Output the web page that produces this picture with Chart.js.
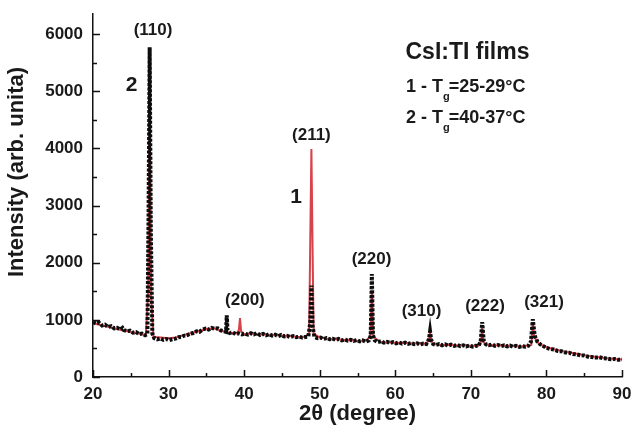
<!DOCTYPE html>
<html>
<head>
<meta charset="utf-8">
<script src="https://cdn.jsdelivr.net/npm/chart.js@4"></script>
<style>
html,body{margin:0;padding:0;background:#fff;}
</style>
</head>
<body>
<canvas id="xrd" width="632" height="427"></canvas>
<script>
// curve 2 (Tg = 40-37 C), black dotted
const twoTheta2 = [20.0,20.4,20.8,21.2,21.6,22.0,22.4,22.8,23.2,23.6,23.9,24.1,24.5,24.9,25.3,25.7,26.1,26.5,26.9,27.2,27.35,27.5,27.65,27.85,
28.1,28.5,28.9,29.3,29.7,30.1,30.5,30.9,31.3,31.7,32.1,32.5,32.9,33.3,33.7,34.1,34.5,34.9,35.3,35.7,36.1,36.5,36.9,37.3,37.6,37.7,37.8,
38.1,38.5,38.9,39.3,39.7,40.1,40.5,40.9,41.3,41.7,42.1,42.5,42.9,43.3,43.7,44.1,44.5,44.9,45.3,45.7,46.1,46.5,46.9,47.3,47.7,48.1,48.5,48.75,48.9,49.05,
49.3,49.7,50.1,50.5,50.9,51.3,51.7,52.1,52.5,52.9,53.3,53.7,54.1,54.5,54.9,55.3,55.7,56.1,56.5,56.75,56.9,57.05,
57.3,57.7,58.1,58.5,58.9,59.3,59.7,60.1,60.5,60.9,61.3,61.7,62.1,62.5,62.9,63.3,63.7,64.1,64.45,64.6,64.75,
65.0,65.4,65.8,66.2,66.6,67.0,67.4,67.8,68.2,68.6,69.0,69.4,69.8,70.2,70.6,71.0,71.3,71.5,71.7,
72.0,72.4,72.8,73.2,73.6,74.0,74.4,74.8,75.2,75.6,76.0,76.4,76.8,77.2,77.6,77.95,78.2,78.45,
78.8,79.2,79.6,80.0,80.5,81.0,81.5,82.0,82.5,83.0,83.5,84.0,84.5,85.0,85.5,86.0,86.5,87.0,87.5,88.0,88.5,89.0,89.5,90.0];
const intensity2 = [960,935,950,900,915,875,890,850,860,830,860,820,800,810,775,785,750,760,730,750,2800,5770,2600,760,
680,660,675,650,665,645,660,670,695,700,725,735,760,770,800,790,830,845,830,860,845,850,815,800,790,1080,820,
770,780,750,765,745,760,740,765,745,770,735,755,730,750,725,740,715,735,710,720,700,715,695,705,690,700,710,950,1600,900,
700,680,690,665,680,660,670,650,665,640,655,635,650,630,645,625,640,620,640,720,1800,730,
640,610,625,600,615,595,610,590,605,585,600,580,595,575,590,570,585,575,660,800,650,
580,560,575,555,570,550,565,545,560,540,555,535,550,530,545,540,620,960,640,
570,555,570,545,560,540,555,535,550,530,545,525,540,530,545,620,1010,720,
620,570,540,510,490,480,455,450,430,425,400,395,380,375,355,350,340,345,330,325,310,315,300,305];

// curve 1 (Tg = 25-29 C), red solid
const twoTheta1 = [20,21,22,23,24,25,26,27,27.3,27.5,27.7,28,29,30,31,32,33,34,35,36,37,38,39,39.3,39.45,39.6,40,41,42,43,44,45,46,47,48,
48.6,48.75,48.9,49.05,49.2,50,51,52,53,54,55,56,56.7,56.9,57.1,58,59,60,61,62,63,64,64.45,64.6,64.75,65,66,67,68,69,70,71,
71.35,71.5,71.65,72,73,74,75,76,77,78,78.2,78.4,79,80,81,82,83,84,85,86,87,88,89,90];
const intensity1 = [940,910,880,850,815,790,760,735,1500,5200,1400,700,690,680,690,730,770,800,840,850,810,775,760,820,1030,800,750,760,745,740,735,725,715,705,700,
760,2400,3990,2300,760,690,670,660,650,645,635,630,700,1500,700,615,605,600,595,590,585,580,640,780,640,575,565,560,555,550,545,545,
620,850,620,565,555,550,545,540,540,560,950,700,580,520,485,455,430,405,380,360,345,330,315,305];

const xTicks = [20,30,40,50,60,70,80,90];
const yTicks = [0,1000,2000,3000,4000,5000,6000];

const peakLabels = ["(110)","(200)","(211)","(220)","(310)","(222)","(321)"];
const curveNames = ["1","2"];
const legendTitle = "CsI:TI films";
const legendLines = [["1 - T","g","=25-29\u00B0C"],["2 - T","g","=40-37\u00B0C"]];

// where the labels sit, in data units
const peakLabelAt = [[27.94,6073],[40.1,1335],[48.9,4223],[56.85,2051],[63.47,1152],[71.87,1239],[79.68,1300]];
const curveNameAt = [[46.86,3141],[25.1,5105]];

const FONT = "'Liberation Sans', Arial, sans-serif";

const decor = {
  id: "decor",
  afterDraw(chart){
    const ctx = chart.ctx;
    const xs = chart.scales.x, ys = chart.scales.y;
    const area = chart.chartArea;
    ctx.save();
    ctx.strokeStyle = "#111";
    ctx.lineWidth = 1.5;
    // inward ticks
    ctx.beginPath();
    for(let v=20; v<=90; v+=5){
      const px = Math.round(xs.getPixelForValue(v)) + 0.5;
      const len = v % 10 === 0 ? 7 : 4;
      ctx.moveTo(px, area.bottom); ctx.lineTo(px, area.bottom - len);
    }
    for(let v=0; v<=6000; v+=500){
      const py = Math.round(ys.getPixelForValue(v)) + 0.5;
      const len = v % 1000 === 0 ? 7 : 4;
      ctx.moveTo(area.left, py); ctx.lineTo(area.left + len, py);
    }
    ctx.stroke();

    ctx.fillStyle = "#1a1a1a";
    ctx.textAlign = "center";
    ctx.textBaseline = "middle";
    ctx.font = "bold 17px " + FONT;
    peakLabels.forEach((t,i)=>{
      ctx.fillText(t, xs.getPixelForValue(peakLabelAt[i][0]), ys.getPixelForValue(peakLabelAt[i][1]));
    });
    ctx.font = "bold 21px " + FONT;
    curveNames.forEach((t,i)=>{
      ctx.fillText(t, xs.getPixelForValue(curveNameAt[i][0]), ys.getPixelForValue(curveNameAt[i][1]));
    });

    // legend block
    ctx.font = "bold 23px " + FONT;
    ctx.fillText(legendTitle, xs.getPixelForValue(69.55), ys.getPixelForValue(5672));
    ctx.textAlign = "left";
    const lineY = [5079, 4529];
    legendLines.forEach((parts,i)=>{
      let x = xs.getPixelForValue(61.42);
      const y = ys.getPixelForValue(lineY[i]);
      ctx.font = "bold 18px " + FONT;
      ctx.fillText(parts[0], x, y);
      x += ctx.measureText(parts[0]).width;
      ctx.font = "bold 11px " + FONT;
      ctx.fillText(parts[1], x, y + 10);
      x += ctx.measureText(parts[1]).width - 1;
      ctx.font = "bold 18px " + FONT;
      ctx.fillText(parts[2], x, y);
    });

    // y axis title
    ctx.translate(17, 172);
    ctx.rotate(-Math.PI/2);
    ctx.textAlign = "center";
    ctx.font = "bold 22px " + FONT;
    ctx.fillText("Intensity (arb. unita)", 0, 0);
    ctx.restore();
  }
};

new Chart(document.getElementById("xrd"), {
  type: "scatter",
  data: {
    datasets: [
      {
        label: "2 - Tg=40-37\u00B0C",
        data: twoTheta2.map((x,i)=>({x:x, y:intensity2[i]})),
        showLine: true,
        borderColor: "#0d0d0d",
        borderWidth: 4,
        borderDash: [3,1.5],
        pointRadius: 0,
        order: 0
      },
      {
        label: "1 - Tg=25-29\u00B0C",
        data: twoTheta1.map((x,i)=>({x:x, y:intensity1[i]})),
        showLine: true,
        borderColor: "#d8424a",
        borderWidth: 2,
        pointRadius: 0,
        order: 1
      }
    ]
  },
  options: {
    responsive: false,
    animation: false,
    devicePixelRatio: 1,
    layout: { padding: { top: 14, right: 10, left: 0, bottom: 0 } },
    plugins: { legend: { display: false }, tooltip: { enabled: false } },
    scales: {
      x: {
        type: "linear",
        min: 20, max: 90,
        afterBuildTicks: s => { s.ticks = xTicks.map(v=>({value:v})); },
        afterFit: s => { s.height = 50; s.paddingLeft = 0; s.paddingRight = 0; },
        grid: { display: false, drawTicks: false },
        border: { display: true, color: "#111", width: 1.5 },
        ticks: { color: "#1a1a1a", padding: 7, font: { family: FONT, size: 17, weight: "bold" } },
        title: { display: true, text: "2\u03B8 (degree)", color: "#1a1a1a", padding: { top: 0, bottom: 0 },
                 font: { family: FONT, size: 22, weight: "bold" } }
      },
      y: {
        min: 0, max: 6350,
        afterBuildTicks: s => { s.ticks = yTicks.map(v=>({value:v})); },
        afterFit: s => { s.width = 93; s.paddingTop = 0; s.paddingBottom = 0; },
        grid: { display: false, drawTicks: false },
        border: { display: true, color: "#111", width: 1.5 },
        ticks: { color: "#1a1a1a", padding: 10, callback: v => String(v),
                 font: { family: FONT, size: 17, weight: "bold" } }
      }
    }
  },
  plugins: [decor]
});
</script>
</body>
</html>
